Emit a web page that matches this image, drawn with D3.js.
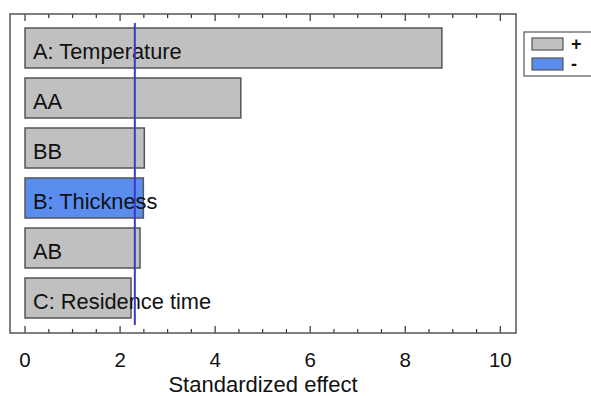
<!DOCTYPE html>
<html>
<head>
<meta charset="utf-8">
<script src="https://cdn.jsdelivr.net/npm/d3@7"></script>
<style>
  body { margin: 0; background: #fff; }
  text { font-family: Arial, "Liberation Sans", sans-serif; fill: #111; }
</style>
</head>
<body>
<div id="chart"></div>
<script>
// Pareto chart data: term names, standardized effects, sign of the effect
const terms = ["A: Temperature", "AA", "BB", "B: Thickness", "AB", "C: Residence time"];
const effects = [8.77, 4.54, 2.51, 2.49, 2.42, 2.23];
const signs = ["+", "+", "+", "-", "+", "+"];
const xTicks = [0, 2, 4, 6, 8, 10];
const criticalValue = 2.31;
const legendKeys = ["+", "-"];

const colorMap = { "+": "#c0c0c0", "-": "#5b8def" };

const width = 591, height = 396;
const plot = { left: 10, top: 14, right: 516, bottom: 333 };

const svg = d3.select("#chart").append("svg")
    .attr("width", width)
    .attr("height", height);

const x = d3.scaleLinear().domain([-0.316, 10.33]).range([plot.left, plot.right]);
const y = d3.scaleBand().domain(terms).range([23, 323]).paddingInner(0.2).paddingOuter(0.1);

const data = terms.map((t, i) => ({ term: t, effect: effects[i], sign: signs[i] }));

// bars
svg.selectAll(".bar").data(data).enter()
    .append("rect")
    .attr("class", "bar")
    .attr("x", x(0))
    .attr("y", d => y(d.term))
    .attr("width", d => x(d.effect) - x(0))
    .attr("height", y.bandwidth())
    .attr("fill", d => colorMap[d.sign])
    .attr("stroke", "#555")
    .attr("stroke-width", 1.5);

// term labels inside bars
svg.selectAll(".label").data(data).enter()
    .append("text")
    .attr("class", "label")
    .attr("x", x(0) + 8)
    .attr("y", d => y(d.term) + y.bandwidth() / 2 + 10.5)
    .style("font-size", "21.8px")
    .text(d => d.term);

// critical value line
svg.append("line")
    .attr("x1", x(criticalValue)).attr("x2", x(criticalValue))
    .attr("y1", 23).attr("y2", 325)
    .attr("stroke", "#3a3ac8")
    .attr("stroke-width", 2);

// ticks on bottom and top, pointing inward
const minorTicks = d3.range(0, 10.01, 0.5);
minorTicks.forEach(v => {
    const major = Math.abs(v % 2) < 1e-6;
    const len = major ? 7 : 4;
    svg.append("line")
        .attr("x1", x(v)).attr("x2", x(v))
        .attr("y1", plot.bottom).attr("y2", plot.bottom - len)
        .attr("stroke", "#333").attr("stroke-width", 1.2);
    svg.append("line")
        .attr("x1", x(v)).attr("x2", x(v))
        .attr("y1", plot.top).attr("y2", plot.top + len)
        .attr("stroke", "#333").attr("stroke-width", 1.2);
});

// frame
svg.append("rect")
    .attr("x", plot.left).attr("y", plot.top)
    .attr("width", plot.right - plot.left)
    .attr("height", plot.bottom - plot.top)
    .attr("fill", "none")
    .attr("stroke", "#555")
    .attr("stroke-width", 1.5);

// tick labels
svg.selectAll(".tick-label").data(xTicks).enter()
    .append("text")
    .attr("x", d => x(d))
    .attr("y", 367)
    .attr("text-anchor", "middle")
    .style("font-size", "20.5px")
    .text(d => d);

// axis title
svg.append("text")
    .attr("x", (plot.left + plot.right) / 2)
    .attr("y", 392)
    .attr("text-anchor", "middle")
    .style("font-size", "22px")
    .text("Standardized effect");

// legend
const legend = svg.append("g").attr("transform", "translate(524,32)");
legend.append("rect")
    .attr("x", 0).attr("y", 0)
    .attr("width", 80).attr("height", 44)
    .attr("fill", "#fff")
    .attr("stroke", "#555")
    .attr("stroke-width", 1.2);
legendKeys.forEach((k, i) => {
    legend.append("rect")
        .attr("x", 8).attr("y", 6 + i * 20)
        .attr("width", 31).attr("height", 12)
        .attr("fill", colorMap[k])
        .attr("stroke", "#555")
        .attr("stroke-width", 1.2);
    legend.append("text")
        .attr("x", 47).attr("y", 18 + i * 20)
        .style("font-size", "18px")
        .style("font-weight", "bold")
        .text(k);
});
</script>
</body>
</html>
